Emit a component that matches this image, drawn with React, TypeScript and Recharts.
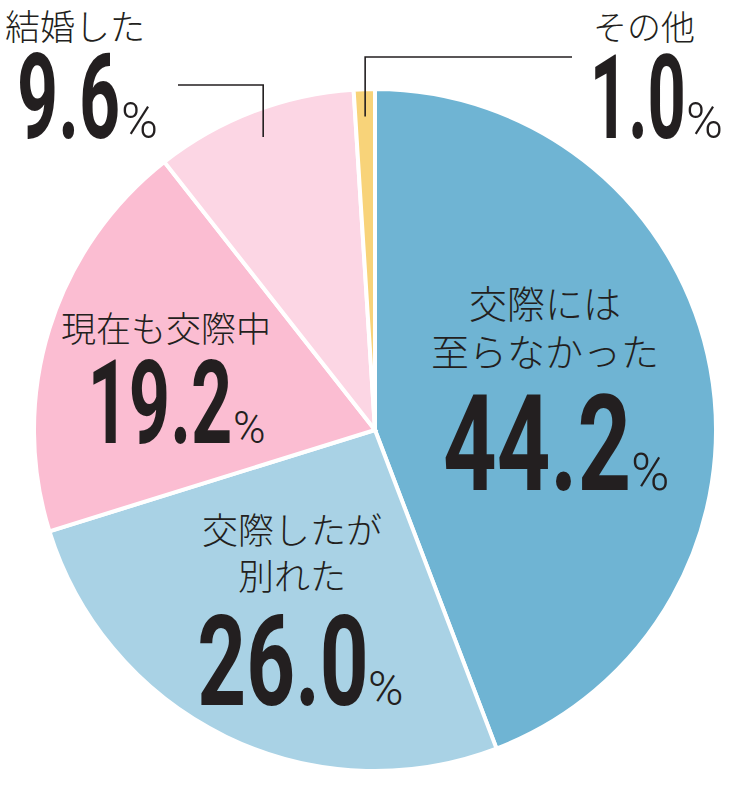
import { PieChart, Pie, Cell } from "recharts"

const categories = ["交際には至らなかった", "交際したが別れた", "現在も交際中", "結婚した", "その他"]
const values = [44.2, 26.0, 19.2, 9.6, 1.0]
const labelLines = [["交際には", "至らなかった"], ["交際したが", "別れた"], ["現在も交際中"], ["結婚した"], ["その他"]]
const colors = ["#6fb4d3", "#a9d2e5", "#fbbdd2", "#fcd6e4", "#f8d379"]

const data = categories.map((name, i) => ({ name, value: values[i] }))

// where each label block sits (layout only)
const labelLayout = [
  { textX: 545, anchor: "middle", textY: [318, 366], textSize: 38, numX: 445, numW: 183, numH: 95, numY: 490, pctSize: 52 },
  { textX: 292, anchor: "middle", textY: [544, 590], textSize: 36, numX: 200, numW: 165, numH: 90, numY: 705, pctSize: 48 },
  { textX: 166, anchor: "middle", textY: [342], textSize: 35, numX: 93, numW: 137, numH: 83, numY: 443, pctSize: 44 },
  { textX: 5, anchor: "start", textY: [40], textSize: 35, numX: 20, numW: 98, numH: 85, numY: 138, pctSize: 50, leader: { x: 178, y: 85 } },
  { textX: 593, anchor: "start", textY: [40], textSize: 34, numX: 595, numW: 88, numH: 83, numY: 138, pctSize: 50, leader: { x: 572, y: 57 } },
]

const RAD = Math.PI / 180
const INK = "#231f20"
const NUM_FONT = "Roboto"

// measure ink extent of a bold number so it can be squeezed to the reference width
function measure(str: string, size: number) {
  try {
    const ctx = document.createElement("canvas").getContext("2d")!
    ctx.font = `700 ${size}px ${NUM_FONT}`
    const m = ctx.measureText(str)
    return { left: -m.actualBoundingBoxLeft, width: m.actualBoundingBoxLeft + m.actualBoundingBoxRight }
  } catch (e) {
    return { left: 0.04 * size, width: str.length * 0.5 * size }
  }
}

function renderLabel(props: any) {
  const { cx, cy, midAngle, outerRadius, index, value } = props
  const l = labelLayout[index]
  const str = Number(value).toFixed(1)
  const size = l.numH / 0.711
  const m = measure(str, size)
  const sx = l.numW / m.width
  let leader = null
  if (l.leader) {
    const px = cx + outerRadius * 0.92 * Math.cos(-midAngle * RAD)
    const py = cy + outerRadius * 0.92 * Math.sin(-midAngle * RAD)
    leader = (
      <path d={`M${l.leader.x},${l.leader.y}H${px}V${py}`} fill="none" stroke={INK} strokeWidth={1.6} />
    )
  }
  return (
    <g key={`lbl-${index}`}>
      {leader}
      {labelLines[index].map((t, j) => (
        <text
          key={j}
          x={l.textX}
          y={l.textY[j]}
          textAnchor={l.anchor}
          fontFamily="'Noto Sans CJK JP', sans-serif"
          fontWeight={300}
          fontSize={l.textSize}
          fill={INK}
        >
          {t}
        </text>
      ))}
      <text
        transform={`translate(${l.numX - m.left * sx},${l.numY}) scale(${sx},1)`}
        x={0}
        y={0}
        fontFamily={`${NUM_FONT}, sans-serif`}
        fontWeight={700}
        fontSize={size}
        fill={INK}
      >
        {str}
      </text>
      <text
        x={l.numX + l.numW + 3}
        y={l.numY}
        fontFamily="Roboto, sans-serif"
        fontWeight={300}
        fontSize={l.pctSize}
        fill={INK}
      >
        %
      </text>
    </g>
  )
}

export default function App() {
  return (
    <div style={{ position: "absolute", left: 0, top: 0, width: 750, height: 791, background: "#fff" }}>
      <PieChart width={750} height={791} margin={{ top: 0, right: 0, bottom: 0, left: 0 }}>
        <Pie
          data={data}
          dataKey="value"
          nameKey="name"
          cx={375}
          cy={430}
          outerRadius={341}
          startAngle={90}
          endAngle={-270}
          stroke="#fff"
          strokeWidth={4}
          label={renderLabel}
          labelLine={false}
          isAnimationActive={false}
        >
          {data.map((entry, index) => (
            <Cell key={`cell-${index}`} fill={colors[index]} />
          ))}
        </Pie>
      </PieChart>
    </div>
  )
}
